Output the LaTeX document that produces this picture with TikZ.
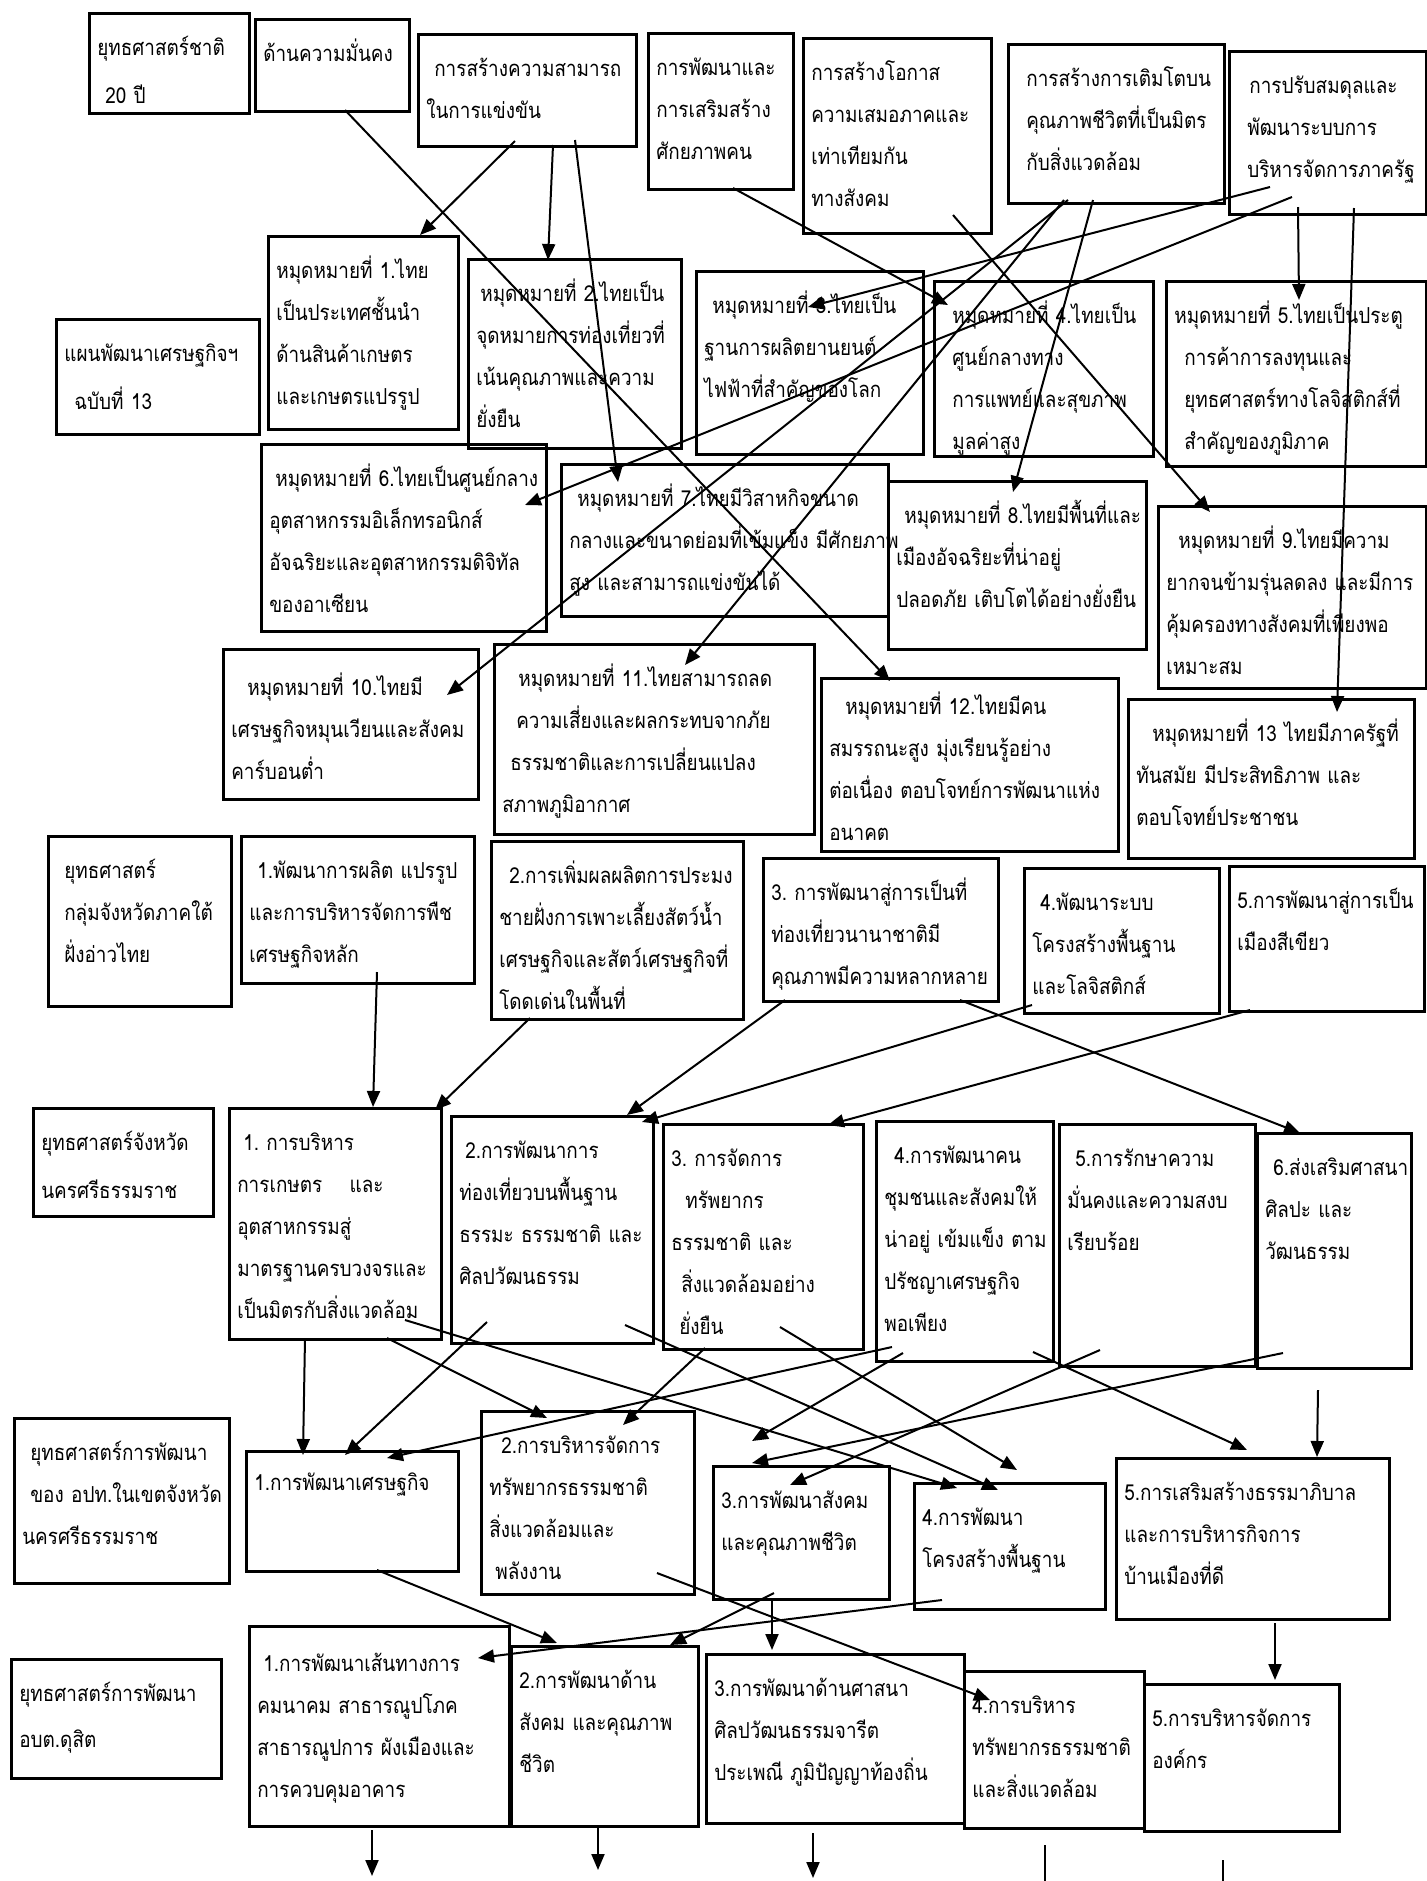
\documentclass[tikz,border=0pt]{standalone}
\usepackage{fontspec}
\newfontfamily\thaifont[Script=Thai,FakeStretch=0.86]{Loma}
\usetikzlibrary{arrows.meta,calc}

\begin{document}
\begin{tikzpicture}[x=0.5pt,y=-0.5pt,
    box/.style 2 args={draw,line width=1.3pt,anchor=north west,align=left,
      inner xsep=4pt,inner ysep=0pt,text width=#1,text height=21pt,text depth=#2,
      font=\thaifont\fontsize{11}{21}\selectfont},
    arr/.style={line width=1pt,-{Triangle[length=8pt,width=6.5pt]}},
    ln/.style={line width=1pt}]
\useasboundingbox (0,0) rectangle (1427,1881);

\node[box={72pt}{29pt}] (n0) at (88,12) {ยุทธศาสตร์ชาติ\\[3pt]\hspace*{4pt}20~ปี};
\node[box={69pt}{25pt}] (s1) at (254,18) {ด้านความมั่นคง};
\node[box={101pt}{35pt}] (s2) at (417,33) {\hspace*{4pt}การสร้างความสามารถ\\ในการแข่งขัน};
\node[box={64.5pt}{57pt}] (s3) at (647,32) {การพัฒนาและ\\การเสริมสร้าง\\ศักยภาพคน};
\node[box={86pt}{76.5pt}] (s4) at (802,37) {การสร้างโอกาส\\ความเสมอภาคและ\\เท่าเทียมกัน\\ทางสังคม};
\node[box={100pt}{58.5pt}] (s5) at (1007,43) {\hspace*{5pt}การสร้างการเติมโตบน\\\hspace*{5pt}คุณภาพชีวิตที่เป็นมิตร\\\hspace*{5pt}กับสิ่งแวดล้อม};
\node[box={90.5pt}{60.5pt}] (s6) at (1228,50) {\hspace*{6pt}การปรับสมดุลและ\\\hspace*{5pt}พัฒนาระบบการ\\\hspace*{5pt}บริหารจัดการภาครัฐ};

\node[box={93.5pt}{36.5pt}] (plan) at (55,318) {แผนพัฒนาเศรษฐกิจฯ\\[3pt]\hspace*{5pt}ฉบับที่~13};

\node[box={87pt}{75.5pt}] (m1) at (267,235) {หมุดหมายที่~1.ไทย\\เป็นประเทศชั้นนำ\\ด้านสินค้าเกษตร\\และเกษตรแปรรูป};
\node[box={98.5pt}{73.5pt}] (m2) at (467,258) {\hspace*{2pt}หมุดหมายที่~2.ไทยเป็น\\จุดหมายการท่องเที่ยวที่\\เน้นคุณภาพและความ\\ยั่งยืน};
\node[box={105.5pt}{70.5pt}] (m3) at (695,270) {\hspace*{4pt}หมุดหมายที่~3.ไทยเป็น\\ฐานการผลิตยานยนต์\\ไฟฟ้าที่สำคัญของโลก};
\node[box={101.5pt}{66.5pt}] (m4) at (933,280) {\hspace*{5pt}หมุดหมายที่~4.ไทยเป็น\\\hspace*{5pt}ศูนย์กลางทาง\\\hspace*{5pt}การแพทย์และสุขภาพ\\\hspace*{5pt}มูลค่าสูง};
\node[box={122pt}{71.5pt}] (m5) at (1165,280) {หมุดหมายที่~5.ไทยเป็นประตู\\\hspace*{5pt}การค้าการลงทุนและ\\\hspace*{5pt}ยุทธศาสตร์ทางโลจิสติกส์ที่\\\hspace*{5pt}สำคัญของภูมิภาค};
\node[box={134.5pt}{72.5pt}] (m6) at (260,443) {\hspace*{3pt}หมุดหมายที่~6.ไทยเป็นศูนย์กลาง\\อุตสาหกรรมอิเล็กทรอนิกส์\\อัจฉริยะและอุตสาหกรรมดิจิทัล\\ของอาเซียน};
\node[box={155.5pt}{55pt}] (m7) at (560,463) {\hspace*{4pt}หมุดหมายที่~7.ไทยมีวิสาหกิจขนาด\\กลางและขนาดย่อมที่เข้มแข็ง~มีศักยภาพ\\สูง~และสามารถแข่งขันได้};
\node[box={121pt}{63pt}] (m8) at (887,480) {\hspace*{4pt}หมุดหมายที่~8.ไทยมีพื้นที่และ\\เมืองอัจฉริยะที่น่าอยู่\\ปลอดภัย~เติบโตได้อย่างยั่งยืน};
\node[box={126pt}{70pt}] (m9) at (1157,505) {\hspace*{6pt}หมุดหมายที่~9.ไทยมีความ\\ยากจนข้ามรุ่นลดลง~และมีการ\\คุ้มครองทางสังคมที่เพียงพอ\\เหมาะสม};
\node[box={119.5pt}{52pt},text height=23pt] (m10) at (222,648) {\hspace*{8pt}หมุดหมายที่~10.ไทยมี\\เศรษฐกิจหมุนเวียนและสังคม\\คาร์บอนต่ำ};
\node[box={152pt}{74pt}] (m11) at (493,643) {\hspace*{8pt}หมุดหมายที่~11.ไทยสามารถลด\\\hspace*{7pt}ความเสี่ยงและผลกระทบจากภัย\\\hspace*{4pt}ธรรมชาติและการเปลี่ยนแปลง\\สภาพภูมิอากาศ};
\node[box={140.5pt}{68.5pt},text height=18pt] (m12) at (820,677) {\hspace*{8pt}หมุดหมายที่~12.ไทยมีคน\\สมรรถนะสูง~มุ่งเรียนรู้อย่าง\\ต่อเนื่อง~ตอบโจทย์การพัฒนาแห่ง\\อนาคต};
\node[box={135pt}{58.5pt}] (m13) at (1127,698) {\hspace*{8pt}หมุดหมายที่~13~ไทยมีภาครัฐที่\\ทันสมัย~มีประสิทธิภาพ~และ\\ตอบโจทย์ประชาชน};

\node[box={83.5pt}{64pt}] (c0) at (47,835) {\hspace*{4pt}ยุทธศาสตร์\\\hspace*{4pt}กลุ่มจังหวัดภาคใต้\\\hspace*{4pt}ฝั่งอ่าวไทย};
\node[box={108.5pt}{52.5pt}] (c1) at (240,835) {\hspace*{4pt}1.พัฒนาการผลิต~แปรรูป\\และการบริหารจัดการพืช\\เศรษฐกิจหลัก};
\node[box={118pt}{68pt}] (c2) at (490,840) {\hspace*{5pt}2.การเพิ่มผลผลิตการประมง\\ชายฝั่งการเพาะเลี้ยงสัตว์น้ำ\\เศรษฐกิจและสัตว์เศรษฐกิจที่\\โดดเด่นในพื้นที่};
\node[box={109.5pt}{50.5pt}] (c3) at (762,857) {3.~การพัฒนาสู่การเป็นที่\\ท่องเที่ยวนานาชาติมี\\คุณภาพมีความหลากหลาย};
\node[box={89.5pt}{51.5pt}] (c4) at (1023,867) {\hspace*{4pt}4.พัฒนาระบบ\\โครงสร้างพื้นฐาน\\และโลจิสติกส์};
\node[box={89.5pt}{51.5pt}] (c5) at (1228,865) {5.การพัฒนาสู่การเป็น\\เมืองสีเขียว};

\node[box={82pt}{33pt}] (p0) at (32,1107) {ยุทธศาสตร์จังหวัด\\[3pt]นครศรีธรรมราช};
\node[box={98pt}{94.5pt}] (p1) at (228,1107) {\hspace*{3pt}1.~การบริหาร\\การเกษตร\hspace{10pt}~และ\\อุตสาหกรรมสู่\\มาตรฐานครบวงจรและ\\เป็นมิตรกับสิ่งแวดล้อม};
\node[box={93pt}{92.5pt}] (p2) at (450,1115) {\hspace*{3pt}2.การพัฒนาการ\\ท่องเที่ยวบนพื้นฐาน\\ธรรมะ~ธรรมชาติ~และ\\ศิลปวัฒนธรรม};
\node[box={92pt}{91.5pt}] (p3) at (662,1123) {3.~การจัดการ\\\hspace*{7pt}ทรัพยากร\\ธรรมชาติ~และ\\\hspace*{5pt}สิ่งแวดล้อมอย่าง\\\hspace*{4pt}ยั่งยืน};
\node[box={80.5pt}{99pt}] (p4) at (875,1120) {\hspace*{5pt}4.การพัฒนาคน\\ชุมชนและสังคมให้\\น่าอยู่~เข้มแข็ง~ตาม\\ปรัชญาเศรษฐกิจ\\พอเพียง};
\node[box={90pt}{100pt}] (p5) at (1058,1123) {\hspace*{4pt}5.การรักษาความ\\มั่นคงและความสงบ\\เรียบร้อย};
\node[box={69pt}{96.5pt}] (p6) at (1256,1132) {\hspace*{4pt}6.ส่งเสริมศาสนา\\ศิลปะ~และ\\วัฒนธรรม};

\node[box={99.5pt}{61.5pt}] (a0) at (13,1417) {\hspace*{4pt}ยุทธศาสตร์การพัฒนา\\\hspace*{4pt}ของ~อปท.ในเขตจังหวัด\\นครศรีธรรมราช};
\node[box={98pt}{40.5pt},text height=19.5pt] (a1) at (245,1450) {1.การพัฒนาเศรษฐกิจ};
\node[box={98.5pt}{70.5pt}] (a2) at (480,1410) {\hspace*{6pt}2.การบริหารจัดการ\\ทรัพยากรธรรมชาติ\\สิ่งแวดล้อมและ\\\hspace*{3pt}พลังงาน};
\node[box={80pt}{45.5pt}] (a3) at (712,1465) {3.การพัฒนาสังคม\\และคุณภาพชีวิต};
\node[box={87.5pt}{42pt}] (a4) at (913,1482) {4.การพัฒนา\\โครงสร้างพื้นฐาน};
\node[box={128.5pt}{59.5pt}] (a5) at (1115,1457) {5.การเสริมสร้างธรรมาภิบาล\\และการบริหารกิจการ\\บ้านเมืองที่ดี};

\node[box={97pt}{38.5pt}] (d0) at (10,1658) {ยุทธศาสตร์การพัฒนา\\[2pt]อบต.ดุสิต};
\node[box={122pt}{77.5pt},text height=22.5pt] (d1) at (248,1625) {\hspace*{3pt}1.การพัฒนาเส้นทางการ\\คมนาคม~สาธารณูปโภค\\สาธารณูปการ~ผังเมืองและ\\การควบคุมอาคาร};
\node[box={85.5pt}{69pt}] (d2) at (510,1645) {2.การพัฒนาด้าน\\สังคม~และคุณภาพ\\ชีวิต};
\node[box={121pt}{63.5pt}] (d3) at (705,1653) {3.การพัฒนาด้านศาสนา\\ศิลปวัฒนธรรมจารีต\\ประเพณี~ภูมิปัญญาท้องถิ่น};
\node[box={82pt}{57.5pt}] (d4) at (963,1670) {4.การบริหาร\\ทรัพยากรธรรมชาติ\\และสิ่งแวดล้อม};
\node[box={89.5pt}{52.5pt}] (d5) at (1143,1683) {5.การบริหารจัดการ\\องค์กร};

\draw[arr] ($(s1.north west)+(91,92)$) -- ($(m12.north west)+(70,4)$);
\draw[arr] ($(s2.north west)+(98,108)$) -- ($(m1.north west)+(153,0)$);
\draw[arr] ($(s2.north west)+(136,112)$) -- ($(m2.north west)+(81,2)$);
\draw[arr] ($(s2.north west)+(158,107)$) -- ($(m7.north west)+(58,19)$);
\draw[arr] ($(s3.north west)+(86,156)$) -- ($(m4.north west)+(15,25)$);
\draw[arr] ($(s4.north west)+(151,178)$) -- ($(m9.north west)+(53,7)$);
\draw[arr] ($(s5.north west)+(57,157)$) -- ($(m11.north west)+(192,22)$);
\draw[arr] ($(s5.north west)+(61,157)$) -- ($(m10.north west)+(225,47)$);
\draw[arr] ($(s5.north west)+(86,157)$) -- ($(m8.north west)+(126,12)$);
\draw[arr] ($(s6.north west)+(42,137)$) -- ($(m3.north west)+(113,37)$);
\draw[arr] ($(s6.north west)+(64,147)$) -- ($(m6.north west)+(265,62)$);
\draw[arr] ($(s6.north west)+(70,157)$) -- ($(m5.north west)+(134,20)$);
\draw[arr] ($(s6.north west)+(126,158)$) -- ($(m13.north west)+(210,14)$);

\draw[arr] ($(c1.north west)+(137,137)$) -- ($(p1.north west)+(145,0)$);
\draw[arr] ($(c2.north west)+(40,178)$) -- ($(p1.north west)+(207,3)$);
\draw[arr] ($(c3.north west)+(23,143)$) -- ($(p2.north west)+(177,0)$);
\draw[arr] ($(c3.north west)+(198,143)$) -- ($(p6.north west)+(44,1)$);
\draw[arr] ($(c4.north west)+(9,138)$) -- ($(p2.north west)+(192,7)$);
\draw[arr] ($(c5.north west)+(22,145)$) -- ($(p3.north west)+(166,2)$);

\draw[arr] ($(p1.north west)+(77,231)$) -- ($(a1.north west)+(58,5)$);
\draw[arr] ($(p1.north west)+(159,231)$) -- ($(a2.north west)+(67,8)$);
\draw[arr] ($(p1.north west)+(177,213)$) -- ($(a4.north west)+(44,6)$);
\draw[arr] ($(p2.north west)+(37,207)$) -- ($(a1.north west)+(100,5)$);
\draw[arr] ($(p2.north west)+(175,210)$) -- ($(a4.north west)+(85,8)$);
\draw[arr] ($(p3.north west)+(43,225)$) -- ($(a2.north west)+(143,15)$);
\draw[arr] ($(p3.north west)+(118,204)$) -- ($(a4.north west)+(104,-12)$);
\draw[arr] ($(p4.north west)+(17,227)$) -- ($(a1.north west)+(142,8)$);
\draw[arr] ($(p4.north west)+(28,233)$) -- ($(a3.north west)+(40,-24)$);
\draw[arr] ($(p4.north west)+(158,232)$) -- ($(a5.north west)+(132,-7)$);
\draw[arr] ($(p5.north west)+(42,227)$) -- ($(a3.north west)+(78,20)$);
\draw[arr] ($(p6.north west)+(27,221)$) -- ($(a3.north west)+(40,-2)$);
\draw[arr] ($(p6.north west)+(62,258)$) -- ($(a5.north west)+(202,0)$);

\draw[arr] ($(a1.north west)+(132,120)$) -- ($(d2.north west)+(47,-2)$);
\draw[arr] ($(a3.north west)+(62,128)$) -- ($(d2.north west)+(160,0)$);
\draw[arr] ($(a3.north west)+(60,133)$) -- ($(d3.north west)+(67,-3)$);
\draw[arr] ($(a4.north west)+(29,118)$) -- ($(d1.north west)+(230,33)$);
\draw[arr] ($(a2.north west)+(177,163)$) -- ($(d4.north west)+(27,30)$);
\draw[arr] ($(a5.north west)+(160,166)$) -- ($(d5.north west)+(132,-3)$);

\coordinate (e1) at (372,1876);
\coordinate (e2) at (598,1870);
\coordinate (e3) at (813,1878);
\coordinate (e4) at (1045,1881);
\coordinate (e5) at (1223,1881);
\draw[arr] ($(d1.north west)+(124,205)$) -- (e1);
\draw[arr] ($(d2.north west)+(88,182)$) -- (e2);
\draw[arr] ($(d3.north west)+(108,180)$) -- (e3);
\draw[ln] ($(d4.north west)+(82,175)$) -- (e4);
\draw[ln] ($(d5.north west)+(80,177)$) -- (e5);
\end{tikzpicture}
\end{document}
